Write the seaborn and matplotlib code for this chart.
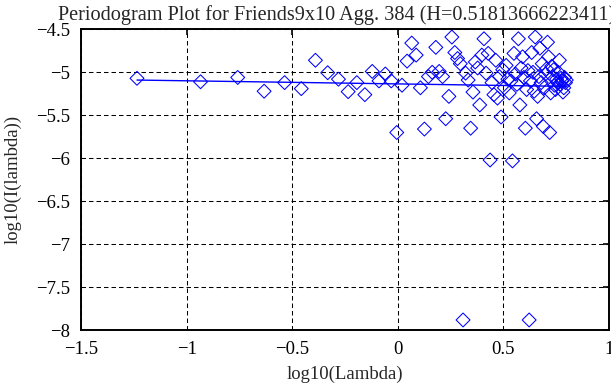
import matplotlib
matplotlib.use("Agg")
import matplotlib.pyplot as plt
import seaborn as sns
import numpy as np
import pandas as pd

# log10 of the periodogram frequencies
log_lambda = [-1.235, -0.934, -0.758, -0.633, -0.536, -0.457, -0.390, -0.332, -0.281, -0.235,
              -0.194, -0.156, -0.121, -0.089, -0.059, -0.031, -0.005, 0.020, 0.044, 0.066,
              0.087, 0.107, 0.126, 0.145, 0.163, 0.180, 0.196, 0.212, 0.227, 0.242,
              0.256, 0.270, 0.283, 0.296, 0.309, 0.321, 0.333, 0.345, 0.356, 0.367,
              0.378, 0.388, 0.398, 0.408, 0.418, 0.428, 0.437, 0.446, 0.455, 0.464,
              0.472, 0.481, 0.489, 0.497, 0.505, 0.513, 0.521, 0.528, 0.536, 0.543,
              0.550, 0.557, 0.564, 0.571, 0.578, 0.584, 0.591, 0.597, 0.604, 0.610,
              0.616, 0.622, 0.628, 0.634, 0.640, 0.646, 0.651, 0.657, 0.662, 0.668,
              0.673, 0.679, 0.684, 0.689, 0.694, 0.699, 0.704, 0.709, 0.714, 0.719,
              0.724, 0.729, 0.733, 0.738, 0.742, 0.747, 0.752, 0.756, 0.760, 0.765,
              0.769, 0.773, 0.778, 0.782, 0.786, 0.790, 0.794, 0.798]

# log10 of the periodogram values
log_I = [-5.07, -5.11, -5.06, -5.22, -5.12, -5.19, -4.86, -5.005, -5.08, -5.225,
         -5.12, -5.26, -4.99, -5.10, -5.02, -5.10, -5.70, -5.15, -4.87, -4.66,
         -4.80, -5.18, -5.66, -5.05, -5.00, -4.71, -4.99, -5.05, -5.54, -5.28,
         -4.59, -4.77, -4.84, -4.90, -7.88, -5.01, -5.09, -5.65, -5.23, -4.88,
         -4.95, -5.38, -4.80, -4.61, -5.01, -4.78, -6.02, -5.12, -5.26, -4.86,
         -5.30, -5.05, -5.52, -4.97, -5.18, -4.92, -5.08, -5.24, -5.10, -6.03,
         -4.78, -5.02, -5.14, -4.61, -5.38, -4.95, -4.82, -5.06, -5.65, -5.20,
         -4.98, -7.88, -5.10, -4.77, -5.00, -5.22, -4.59, -5.54, -5.28, -5.05,
         -4.72, -5.12, -4.90, -5.63, -5.18, -5.02, -4.96, -4.65, -4.82, -5.70,
         -5.24, -4.93, -5.05, -4.97, -5.15, -5.20, -5.08, -5.12, -5.00, -4.86,
         -5.14, -5.07, -5.10, -5.23, -5.18, -5.06, -5.12, -5.09]

H = 0.51813666223411
fit_intercept = -5.135

df = pd.DataFrame({"x": log_lambda, "y": log_I})
df["fit"] = fit_intercept + (1 - 2 * H) * df["x"]

sns.set_style("white")
plt.rcParams["font.family"] = ["Liberation Serif", "DejaVu Serif"]
plt.rcParams["axes.unicode_minus"] = True

fig = plt.figure(figsize=(6.11, 3.85), dpi=100)
ax = fig.add_axes([0.1326, 0.1421, 0.8641, 0.7818])

sns.scatterplot(data=df, x="x", y="y", marker="D", s=50, color="blue",
                facecolor="none", edgecolor="blue", linewidth=0.75, ax=ax, zorder=3)
sns.lineplot(data=df, x="x", y="fit", color="blue", linewidth=1.0, ax=ax, zorder=4)

ax.set_xlim(-1.5, 1)
ax.set_ylim(-8, -4.5)
ax.set_xticks([-1.5, -1, -0.5, 0, 0.5, 1])
ax.set_yticks([-8, -7.5, -7, -6.5, -6, -5.5, -5, -4.5])
ax.set_xticklabels(["\u22121.5", "\u22121", "\u22120.5", "0", "0.5", "1"])
ax.set_yticklabels(["\u22128", "\u22127.5", "\u22127", "\u22126.5", "\u22126",
                    "\u22125.5", "\u22125", "\u22124.5"])
ax.grid(True, color="black", linestyle=(0, (4.3, 2.9)), linewidth=0.75)
ax.tick_params(direction="in", length=4, width=1.2, top=True, right=True,
               labelsize=13.5, colors="black")
ax.tick_params(axis="x", pad=8)
ax.tick_params(axis="y", pad=8)
for sp in ax.spines.values():
    sp.set_linewidth(1.4)
    sp.set_color("black")

ax.set_xlabel("log10(Lambda)", fontsize=13.5, labelpad=5)
ax.set_ylabel("log10(I(lambda))", fontsize=13.5, labelpad=10)
ax.set_title(f"Periodogram Plot for Friends9x10 Agg. 384 (H={H:.14f})",
             fontsize=14.6, pad=7, x=0.485)

fig.savefig("out.png", dpi=100)
